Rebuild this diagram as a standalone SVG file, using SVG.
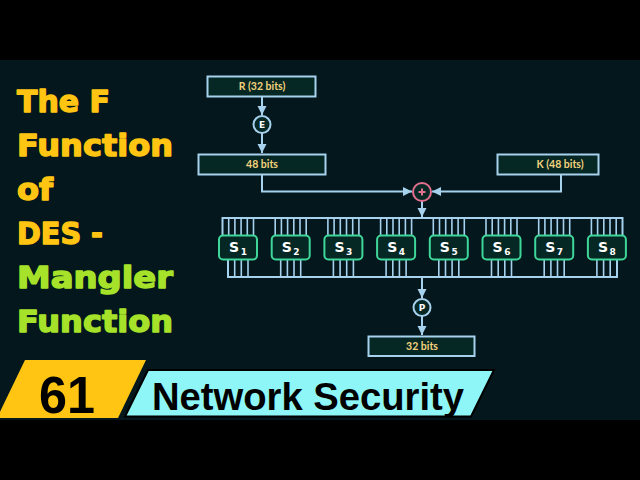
<svg xmlns="http://www.w3.org/2000/svg" width="640" height="480" viewBox="0 0 640 480">
<defs>
<style>
.box{fill:#062824;stroke:#a6d2ee;stroke-width:2}
.sbox{fill:#062824;stroke:#3fd69a;stroke-width:2}
.lbl{font-family:Lato,"DejaVu Sans",sans-serif;font-weight:bold;font-size:10.5px;fill:#f3d27c;text-anchor:middle}
.sl{font-family:"DejaVu Sans",sans-serif;font-weight:bold;font-size:14px;fill:#ffffff;text-anchor:middle}
.circ{fill:#062824;stroke:#a6d2ee;stroke-width:2}
.cl{font-family:"DejaVu Sans",sans-serif;font-weight:bold;font-size:9px;fill:#ffffff;text-anchor:middle}
.wire{fill:none;stroke:#a6d2ee;stroke-width:2}
.comb{stroke:#a6d2ee;stroke-width:1.6}
.ttl{font-family:"DejaVu Sans",sans-serif;font-weight:bold;font-size:30px;stroke-width:1.4;stroke-linejoin:round}
.y{fill:#ffc512;stroke:#ffc512}
.g{fill:#a6e22a;stroke:#a6e22a}
</style>
<marker id="ah" markerUnits="userSpaceOnUse" markerWidth="10" markerHeight="10" refX="9" refY="5" orient="auto">
<path d="M0,0.5 L9,5 L0,9.5 Z" fill="#a6d2ee"/>
</marker>
</defs>
<rect x="0" y="0" width="640" height="480" fill="#03171c"/>
<rect x="0" y="0" width="640" height="60" fill="#000000"/>
<rect x="0" y="420" width="640" height="60" fill="#000000"/>

<g id="title">
<text class="ttl y" x="17" y="112" textLength="93" lengthAdjust="spacingAndGlyphs">The F</text>
<text class="ttl y" x="17" y="156" textLength="156" lengthAdjust="spacingAndGlyphs">Function</text>
<text class="ttl y" x="17" y="200" textLength="36" lengthAdjust="spacingAndGlyphs">of</text>
<text class="ttl y" x="17" y="244" textLength="86" lengthAdjust="spacingAndGlyphs">DES -</text>
<text class="ttl g" x="17" y="288" textLength="156" lengthAdjust="spacingAndGlyphs">Mangler</text>
<text class="ttl g" x="17" y="332" textLength="156" lengthAdjust="spacingAndGlyphs">Function</text>
</g>

<g id="connectors">
<path class="wire" d="M262,97 V115" marker-end="url(#ah)"/>
<path class="wire" d="M262,133 V153" marker-end="url(#ah)"/>
<path class="wire" d="M262,175 V191.5 H412" marker-end="url(#ah)"/>
<path class="wire" d="M561,175 V191.5 H432" marker-end="url(#ah)"/>
<path class="wire" d="M422,201 V217" marker-end="url(#ah)"/>
<path class="wire" d="M422,277 V298" marker-end="url(#ah)"/>
<path class="wire" d="M422,316 V335" marker-end="url(#ah)"/>
<path class="wire" d="M222.5,236 V218 H622.5 V236"/>
<path class="wire" d="M228,260 V277 H617 V260"/>
<g class="comb">
<path d="M228.7,218V236M234.9,218V236M241.1,218V236M247.3,218V236M253.5,218V236M234.7,260V277M241.3,260V277M248,260V277"/>
<path d="M275.2,218V236M281.4,218V236M287.6,218V236M293.8,218V236M300,218V236M306.2,218V236M280.7,260V277M287.4,260V277M294,260V277M300.7,260V277"/>
<path d="M327.9,218V236M334.1,218V236M340.3,218V236M346.5,218V236M352.7,218V236M358.9,218V236M333.4,260V277M340.1,260V277M346.7,260V277M353.4,260V277"/>
<path d="M380.6,218V236M386.8,218V236M393,218V236M399.2,218V236M405.4,218V236M411.6,218V236M386.1,260V277M392.8,260V277M399.4,260V277M406.1,260V277"/>
<path d="M433.3,218V236M439.5,218V236M445.7,218V236M451.9,218V236M458.1,218V236M464.3,218V236M438.8,260V277M445.5,260V277M452.1,260V277M458.8,260V277"/>
<path d="M486,218V236M492.2,218V236M498.4,218V236M504.6,218V236M510.8,218V236M517,218V236M491.5,260V277M498.2,260V277M504.8,260V277M511.5,260V277"/>
<path d="M538.7,218V236M544.9,218V236M551.1,218V236M557.3,218V236M563.5,218V236M569.7,218V236M544.2,260V277M550.9,260V277M557.5,260V277M564.2,260V277"/>
<path d="M591.4,218V236M597.6,218V236M603.8,218V236M610,218V236M616.2,218V236M596.9,260V277M603.6,260V277M610.2,260V277"/>
</g>
</g>

<g id="r-box"><rect class="box" x="207.5" y="76.5" width="108" height="20"/><text class="lbl" x="262" y="90">R (32 bits)</text></g>
<g id="e-circle"><circle class="circ" cx="262" cy="124.5" r="8.5"/><text class="cl" x="262" y="128">E</text></g>
<g id="b48-box"><rect class="box" x="198.5" y="154.5" width="127" height="20"/><text class="lbl" x="262" y="168">48 bits</text></g>
<g id="k-box"><rect class="box" x="497.5" y="154.5" width="101" height="20"/><text class="lbl" x="560" y="168">K (48 bits)</text></g>
<g id="xor"><circle cx="422" cy="192" r="9" fill="#062824" stroke="#e2708f" stroke-width="2"/><path d="M418.5,192H425.5M422,188.5V195.5" stroke="#e2708f" stroke-width="2"/></g>

<g id="s1"><rect class="sbox" x="219" y="235.5" width="38" height="24" rx="4"/><text class="sl" x="238" y="252">S<tspan font-size="9" dx="1.5" dy="2.5">1</tspan></text></g>
<g id="s2"><rect class="sbox" x="271.7" y="235.5" width="38" height="24" rx="4"/><text class="sl" x="290.7" y="252">S<tspan font-size="9" dx="1.5" dy="2.5">2</tspan></text></g>
<g id="s3"><rect class="sbox" x="324.4" y="235.5" width="38" height="24" rx="4"/><text class="sl" x="343.4" y="252">S<tspan font-size="9" dx="1.5" dy="2.5">3</tspan></text></g>
<g id="s4"><rect class="sbox" x="377.1" y="235.5" width="38" height="24" rx="4"/><text class="sl" x="396.1" y="252">S<tspan font-size="9" dx="1.5" dy="2.5">4</tspan></text></g>
<g id="s5"><rect class="sbox" x="429.8" y="235.5" width="38" height="24" rx="4"/><text class="sl" x="448.8" y="252">S<tspan font-size="9" dx="1.5" dy="2.5">5</tspan></text></g>
<g id="s6"><rect class="sbox" x="482.5" y="235.5" width="38" height="24" rx="4"/><text class="sl" x="501.5" y="252">S<tspan font-size="9" dx="1.5" dy="2.5">6</tspan></text></g>
<g id="s7"><rect class="sbox" x="535.2" y="235.5" width="38" height="24" rx="4"/><text class="sl" x="554.2" y="252">S<tspan font-size="9" dx="1.5" dy="2.5">7</tspan></text></g>
<g id="s8"><rect class="sbox" x="587.9" y="235.5" width="38" height="24" rx="4"/><text class="sl" x="606.9" y="252">S<tspan font-size="9" dx="1.5" dy="2.5">8</tspan></text></g>

<g id="p-circle"><circle class="circ" cx="422" cy="307.5" r="8.5"/><text class="cl" x="422" y="311">P</text></g>
<g id="b32-box"><rect class="box" x="368.5" y="336.5" width="106" height="19.5"/><text class="lbl" x="422" y="350">32 bits</text></g>

<g id="banner">
<polygon points="25,360 146,360 118,418 -3,418" fill="#ffc512"/>
<polygon points="148,370 494,370 471,416.5 125,416.5" fill="#8ef6f6" stroke="#000000" stroke-width="2"/>
<text x="67" y="413" font-family="'Liberation Sans',Arial,sans-serif" font-weight="bold" font-size="52" fill="#000000" text-anchor="middle" textLength="56" lengthAdjust="spacingAndGlyphs">61</text>
<text x="152" y="410" font-family="'Liberation Sans',Arial,sans-serif" font-weight="bold" font-size="39" fill="#000000" textLength="312" lengthAdjust="spacingAndGlyphs">Network Security</text>
</g>
</svg>
